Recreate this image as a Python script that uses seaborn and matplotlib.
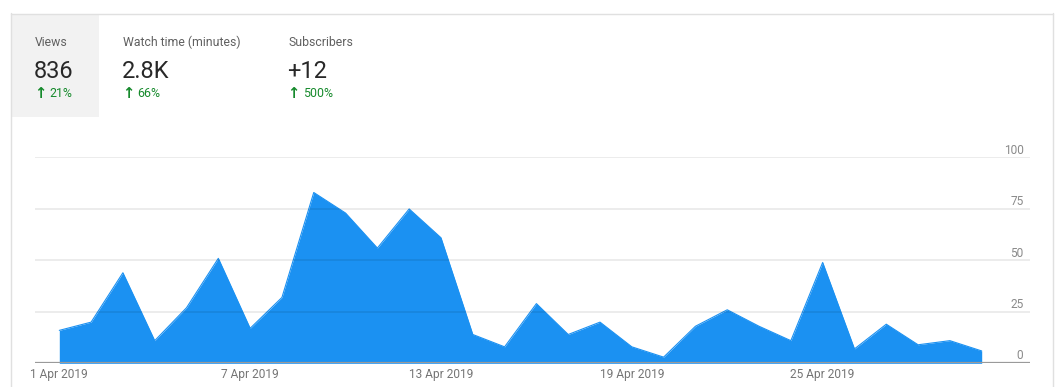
import matplotlib
matplotlib.use("Agg")
import matplotlib.pyplot as plt
import matplotlib.transforms as mtransforms
from matplotlib.patches import Rectangle
from matplotlib.lines import Line2D
import seaborn as sns
import pandas as pd

# ---- data ----
days = list(range(30))  # 1 Apr 2019 .. 30 Apr 2019
views = [16, 20, 44, 11, 27, 51, 17, 32, 83, 73, 56, 75, 61, 14, 8,
         29, 14, 20, 8, 3, 18, 26, 18, 11, 49, 7, 19, 9, 11, 6]
xtick_pos = [0, 6, 12, 18, 24]
xtick_labels = ["1 Apr 2019", "7 Apr 2019", "13 Apr 2019", "19 Apr 2019", "25 Apr 2019"]
yticks = [0, 25, 50, 75, 100]

metric_names = ["Views", "Watch time (minutes)", "Subscribers"]
metric_values = ["836", "2.8K", "+12"]
metric_changes = ["21%", "66%", "500%"]

sns.set_theme(style="white")
plt.rcParams["font.family"] = ["Roboto", "DejaVu Sans"]

W, H = 1057, 387
fig = plt.figure(figsize=(W / 100, H / 100), dpi=100)
fig.patch.set_facecolor("white")

def fx(px):
    return px / W

def fy(py):
    return 1 - py / H

# card border and selected tab
border = "#e0e0e0"
fig.add_artist(Rectangle((fx(11), fy(117)), fx(99) - fx(11), fy(14) - fy(117),
                         transform=fig.transFigure, facecolor="#f2f2f2",
                         edgecolor="none", zorder=0))
fig.add_artist(Line2D([fx(11), fx(11)], [fy(13), 0], transform=fig.transFigure,
                      color=border, lw=1))
fig.add_artist(Line2D([fx(11), fx(1052.5)], [fy(13.5), fy(13.5)], transform=fig.transFigure,
                      color=border, lw=1))
fig.add_artist(Line2D([fx(1052.5), fx(1052.5)], [fy(13), 0], transform=fig.transFigure,
                      color=border, lw=1))

# header metrics
name_x = [35, 123, 288]
change_x = [49, 137, 303]
green = "#168a2c"
for i in range(3):
    fig.text(fx(name_x[i]), fy(42), metric_names[i], fontsize=8.8, color="#606060",
             va="center", ha="left")
    fig.text(fx(name_x[i] - 1), fy(71), metric_values[i], fontsize=17, color="#282828",
             va="center", ha="left")
    fig.text(fx(name_x[i] - 0.5), fy(93.5), "\u2191", fontsize=10.5, color=green,
             fontweight="bold", va="center", ha="left", family=["DejaVu Sans"])
    fig.text(fx(change_x[i]), fy(93.5), metric_changes[i], fontsize=8.9, color=green,
             va="center", ha="left")

# chart axes
ax_left, ax_right = 35, 1030
ax_top, ax_bottom = 157.5, 363.3
ax = fig.add_axes([fx(ax_left), fy(ax_bottom), fx(ax_right) - fx(ax_left),
                   (ax_bottom - ax_top) / H])
ax.set_facecolor("none")

df = pd.DataFrame({"day": days, "views": views})
blue = "#1b91f2"
ax.fill_between(df["day"], df["views"], 0, color=blue, lw=0, zorder=1)
sns.lineplot(data=df, x="day", y="views", ax=ax, color=blue, lw=0.8, zorder=2)

px_per_day = (981.7 - 59.3) / 29
ax.set_xlim(-(59.3 - ax_left) / px_per_day, 29 + (ax_right - 981.7) / px_per_day)
ax.set_ylim(0, 100)

# gridlines (drawn over the fill, slightly visible)
for t in yticks[1:]:
    ax.axhline(t, color="black", alpha=0.09, lw=1.2, zorder=3)
ax.axhline(0, color="#9a9a9a", lw=1.6, zorder=4)

for s in ax.spines.values():
    s.set_visible(False)
ax.set_xlabel("")
ax.set_ylabel("")
ax.set_yticks([])
ax.set_xticks(xtick_pos)
ax.set_xticklabels(xtick_labels, fontsize=8.6, color="#757575")
ax.tick_params(axis="x", length=0, pad=3.5)

# y labels on the right, above gridlines
off = mtransforms.offset_copy(ax.get_yaxis_transform(), fig=fig, x=0, y=0.6, units="points")
xr = (1023.5 - ax_left) / (ax_right - ax_left)
for t in yticks:
    ax.text(xr, t, str(t), transform=off, ha="right", va="bottom",
            fontsize=8.6, color="#8a8a8a")

fig.savefig("out.png", dpi=100, facecolor="white")
